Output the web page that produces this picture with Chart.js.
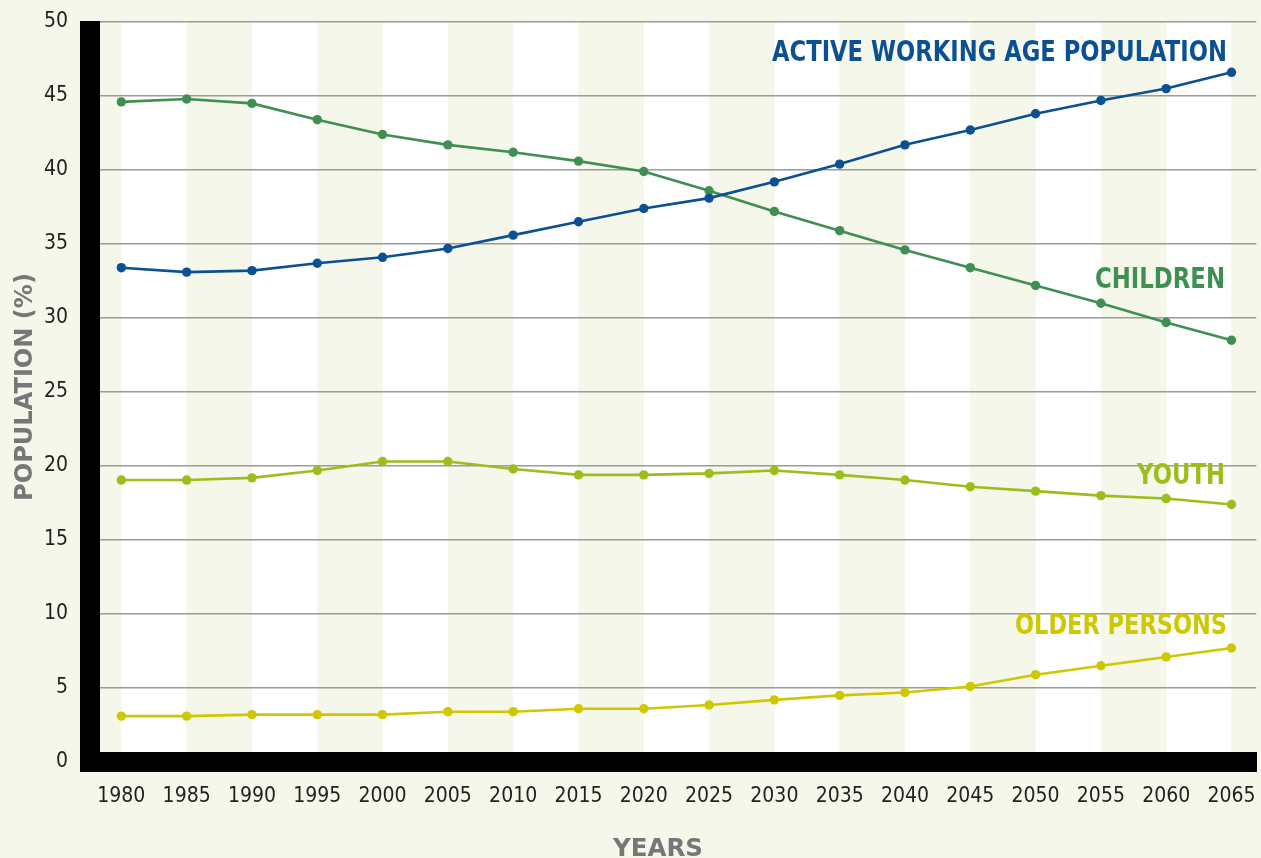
<!DOCTYPE html>
<html>
<head>
<meta charset="utf-8">
<script src="https://cdn.jsdelivr.net/npm/chart.js@4"></script>
<style>
  html, body { margin: 0; padding: 0; background: #f5f7ea; }
  #wrap { width: 1261px; height: 858px; position: relative; }
</style>
</head>
<body>
<div id="wrap"><canvas id="myChart"></canvas></div>
<script>
var years = [1980, 1985, 1990, 1995, 2000, 2005, 2010, 2015, 2020, 2025, 2030, 2035, 2040, 2045, 2050, 2055, 2060, 2065];
var activeWorking = [33.4, 33.1, 33.2, 33.7, 34.1, 34.7, 35.6, 36.5, 37.4, 38.1, 39.2, 40.4, 41.7, 42.7, 43.8, 44.7, 45.5, 46.6];
var children = [44.6, 44.8, 44.5, 43.4, 42.4, 41.7, 41.2, 40.6, 39.9, 38.6, 37.2, 35.9, 34.6, 33.4, 32.2, 31.0, 29.7, 28.5];
var youth = [19.05, 19.05, 19.2, 19.7, 20.3, 20.3, 19.8, 19.4, 19.4, 19.5, 19.7, 19.4, 19.05, 18.6, 18.3, 18.0, 17.8, 17.4];
var olderPersons = [3.1, 3.1, 3.2, 3.2, 3.2, 3.4, 3.4, 3.6, 3.6, 3.85, 4.2, 4.5, 4.7, 5.1, 5.9, 6.5, 7.1, 7.7];
var yTicks = [0, 5, 10, 15, 20, 25, 30, 35, 40, 45, 50];

var BLUE = '#0a5092', GREEN = '#3f8f52', LIME = '#9cbe1c', YELLOW = '#cdc800';
var PAGE = '#f5f7ea';

function pts(vals) {
    return years.map(function (y, i) { return { x: y, y: vals[i] }; });
}

function series(label, vals, color) {
    return {
        label: label,
        data: pts(vals),
        borderColor: color,
        backgroundColor: color,
        pointBackgroundColor: color,
        borderWidth: 2.6,
        pointRadius: 4.7,
        pointBorderWidth: 0,
        tension: 0
    };
}

// alternating vertical bands between the year points
var bands = {
    id: 'bands',
    beforeDraw: function (chart) {
        var c = chart.ctx, a = chart.chartArea, xs = chart.scales.x;
        c.save();
        for (var i = 0; i <= years.length; i++) {
            var l = i === 0 ? a.left : xs.getPixelForValue(years[i - 1]);
            var r = i === years.length ? a.right : xs.getPixelForValue(years[i]);
            c.fillStyle = i % 2 === 0 ? PAGE : '#ffffff';
            c.fillRect(l, a.top, r - l, a.bottom - a.top);
        }
        c.restore();
    }
};

// series names, axis titles, and the axis bar ends
var notes = {
    id: 'notes',
    afterDraw: function (chart) {
        var c = chart.ctx, a = chart.chartArea;
        c.save();
        // left bar should stop at the top gridline, and fill the bottom-left corner
        c.fillStyle = PAGE;
        c.fillRect(a.left - 11, 0, 22, a.top - 1);
        c.fillStyle = '#000';
        c.fillRect(a.left - 10, a.bottom - 10, 20, 20);

        c.textAlign = 'right';
        c.textBaseline = 'alphabetic';
        c.font = 'bold 28px "DejaVu Sans"';
        c.fillStyle = BLUE;
        c.fillText('ACTIVE WORKING AGE POPULATION', 1227, 61, 455);
        c.fillStyle = GREEN;
        c.fillText('CHILDREN', 1225, 288, 130);
        c.fillStyle = LIME;
        c.fillText('YOUTH', 1225, 484, 88);
        c.fillStyle = YELLOW;
        c.fillText('OLDER PERSONS', 1227, 634, 212);

        c.fillStyle = '#777777';
        c.font = 'bold 25px "DejaVu Sans"';
        c.textAlign = 'center';
        c.textBaseline = 'middle';
        c.fillText('YEARS', 658, 849, 90);
        c.translate(25, 387);
        c.rotate(-Math.PI / 2);
        c.fillText('POPULATION (%)', 0, 0, 228);
        c.restore();
    }
};

var tickFont = { family: '"DejaVu Sans Condensed", "DejaVu Sans"', size: 21 };

var ctx = document.getElementById('myChart').getContext('2d');

var chart = new Chart(ctx, {
    type: 'line',
    data: {
        datasets: [
            series('Active working age population', activeWorking, BLUE),
            series('Children', children, GREEN),
            series('Youth', youth, LIME),
            series('Older persons', olderPersons, YELLOW)
        ]
    },
    options: {
        responsive: true,
        maintainAspectRatio: false,
        animation: false,
        layout: { padding: { top: 22, right: 3, left: 0, bottom: 0 } },
        plugins: {
            legend: { display: false },
            tooltip: { enabled: false }
        },
        scales: {
            x: {
                type: 'linear',
                min: 1977.6,
                max: 2066.9,
                afterBuildTicks: function (s) {
                    s.ticks = years.map(function (v) { return { value: v }; });
                },
                afterFit: function (s) {
                    s.height = 96;
                    s.paddingLeft = 0;
                    s.paddingRight = 0;
                },
                grid: { display: false, drawTicks: false },
                border: { display: true, width: 20, color: '#000' },
                ticks: {
                    padding: 22,
                    color: '#231f20',
                    font: tickFont,
                    callback: function (v) { return String(v); }
                }
            },
            y: {
                min: 0,
                max: 50,
                afterBuildTicks: function (s) {
                    s.ticks = yTicks.map(function (v) { return { value: v }; });
                },
                afterFit: function (s) {
                    s.width = 90;
                    s.paddingTop = 0;
                    s.paddingBottom = 0;
                },
                grid: { color: '#9a9a9a', lineWidth: 1.5, drawTicks: false },
                border: { display: true, width: 20, color: '#000' },
                ticks: {
                    padding: 22,
                    color: '#231f20',
                    font: tickFont
                }
            }
        }
    },
    plugins: [bands, notes]
});
</script>
</body>
</html>
